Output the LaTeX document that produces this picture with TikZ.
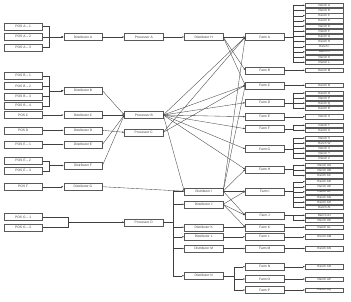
\documentclass[tikz,border=0pt]{standalone}
\usepackage{fontspec}
\setmainfont{Liberation Sans}
\usetikzlibrary{arrows.meta}
\begin{document}
\begin{tikzpicture}[x=1pt,y=-1pt,
 box/.style={draw=black!65, fill=white, line width=0.4pt, minimum width=38.5pt, minimum height=7pt, inner sep=0pt, font=\fontsize{3.3}{3.3}\selectfont, text=black!75},
 rbox/.style={box, minimum width=38pt, minimum height=4.4pt, font=\fontsize{3}{3}\selectfont},
 conn/.style={draw=black!75, line width=0.35pt, -{Latex[length=2pt,width=1.6pt]}}]
\useasboundingbox (0,0) rectangle (351,301);
% column 1: POS
\node[box] (pa1) at (23.2,26.3) {POS A – 1};
\node[box] (pa2) at (23.2,36.8) {POS A – 2};
\node[box] (pa3) at (23.2,47.3) {POS A – 3};
\node[box] (pb1) at (23.2,75.8) {POS B – 1};
\node[box] (pb2) at (23.2,86) {POS B – 2};
\node[box] (pb3) at (23.2,96.2) {POS B – 3};
\node[box] (pb4) at (23.2,105.8) {POS B – 4};
\node[box] (pc) at (23.2,115) {POS C};
\node[box] (pd) at (23.2,130.3) {POS D};
\node[box] (pe1) at (23.2,144.5) {POS E – 1};
\node[box] (pe2) at (23.2,160.7) {POS E – 2};
\node[box] (pe3) at (23.2,170.7) {POS E – 3};
\node[box] (pf) at (23.2,186.7) {POS F};
\node[box] (pg1) at (23.2,217) {POS G – 1};
\node[box] (pg2) at (23.2,227.3) {POS G – 2};
% column 2: distributors
\node[box] (dA) at (83,37) {Distributor A};
\node[box] (dB) at (83,90.7) {Distributor B};
\node[box] (dC) at (83,115) {Distributor C};
\node[box] (dD) at (83,130.3) {Distributor D};
\node[box] (dE) at (83,144.5) {Distributor E};
\node[box] (dF) at (83,165.5) {Distributor F};
\node[box] (dG) at (83,186.7) {Distributor G};
% column 3: processors
\node[box] (prA) at (143.8,37) {Processor A};
\node[box] (prB) at (143.8,115) {Processor B};
\node[box] (prC) at (143.8,132.3) {Processor C};
\node[box] (prD) at (143.8,222.3) {Processor D};
% column 4: distributors
\node[box] (dH) at (203.7,37) {Distributor H};
\node[box] (dI) at (203.7,191.2) {Distributor I};
\node[box] (dJ) at (203.7,204.3) {Distributor J};
\node[box] (dK) at (203.7,227.2) {Distributor K};
\node[box] (dL) at (203.7,236.8) {Distributor L};
\node[box] (dM) at (203.7,248.5) {Distributor M};
\node[box] (dN) at (203.7,275.7) {Distributor N};
% column 5: farms
\foreach \n/\y in {A/37,B/70.3,C/85.3,D/102.7,E/116.7,F/128.7,G/149,H/169.3,I/191.2,J/215.3,K/227.2,L/236.8,M/248.5,N/266.7,O/279,P/290}
  \node[box] (f\n) at (264.7,\y) {Farm \n};
% column 6: ranches
\foreach \n/\y in {A/5.3,B/10.5,C/15.7,D/20.8,E/26,F/31.2,G/36.4,H/41.6,I/46.7,J/51.9,K/57.1,L/62.3,M/70.3,N/85.3,O/93,P/98.1,Q/103.2,R/108.3,S/116.7,T/125.3,U/130.4,V/138,W/143.1,X/148.2,Y/153.3,Z/158.4,AA/165.3,AB/170.4,AC/175.6,AD/181.7,AE/186.8,AF/191.9,AG/197,AH/202.1,AI/207.3,AJ/215.3,AK/220.4,AL/227.2,AM/236.8,AN/248.5,AO/266.7,AP/279,AQ/290}
  \node[rbox] (r\n) at (324.3,\y) {Ranch \n};
% POS -> distributors
\foreach \s in {pa1,pa2,pa3} \draw[conn] (\s.east) -- ++(7,0) |- (dA.west);
\foreach \s in {pb1,pb2,pb3,pb4} \draw[conn] (\s.east) -- ++(7,0) |- (dB.west);
\draw[conn] (pc) -- (dC);
\draw[conn] (pd) -- (dD);
\draw[conn] (pe1) -- (dE);
\foreach \s in {pe2,pe3} \draw[conn] (\s.east) -- ++(7,0) |- (dF.west);
\draw[conn] (pf) -- (dG);
\foreach \s in {pg1,pg2} \draw[conn] (\s.east) -- ++(26,0) |- (prD.west);
% distributors -> processors
\draw[conn] (dA) -- (prA);
\foreach \s in {dB,dC,dE,dF} \draw[conn] (\s.east) -- (prB.west);
\draw[conn] (dD.east) -- (prC.west);
\draw[conn] (dG.east) -- (dI.west);
% processors -> distributors
\draw[conn] (prA) -- (dH);
\draw[conn] (prB.east) -- (dI.west);
\foreach \t in {dI,dJ,dK,dL,dM,dN} \draw[conn] (prD.east) -- ++(10,0) |- (\t.west);
% to farms
\foreach \t in {fA,fB,fC} \draw[conn] (dH.east) -- (\t.west);
\foreach \t in {fA,fC,fD,fE,fF,fG,fH} \draw[conn] (prB.east) -- (\t.west);
\foreach \t in {fA,fC} \draw[conn] (prC.east) -- (\t.west);
\foreach \t in {fA,fC,fH,fI,fJ} \draw[conn] (dI.east) -- (\t.west);
\foreach \t in {fI,fJ,fK} \draw[conn] (dJ.east) -- (\t.west);
\draw[conn] (dK) -- (fK);
\draw[conn] (dL) -- (fL);
\draw[conn] (dM) -- (fM);
\foreach \t in {fN,fO,fP} \draw[conn] (dN.east) -- ++(10.7,0) |- (\t.west);
% farms -> ranches
\foreach \r in {A,B,C,D,E,F,G,H,I,J,K,L} \draw[conn] (fA.east) -- ++(9,0) |- (r\r.west);
\draw[conn] (fB) -- (rM);
\draw[conn] (fC) -- (rN);
\foreach \r in {O,P,Q,R} \draw[conn] (fD.east) -- ++(9,0) |- (r\r.west);
\draw[conn] (fE) -- (rS);
\foreach \r in {T,U} \draw[conn] (fF.east) -- ++(9,0) |- (r\r.west);
\foreach \r in {V,W,X,Y,Z} \draw[conn] (fG.east) -- ++(9,0) |- (r\r.west);
\foreach \r in {AA,AB,AC} \draw[conn] (fH.east) -- ++(9,0) |- (r\r.west);
\foreach \r in {AD,AE,AF,AG,AH,AI} \draw[conn] (fI.east) -- ++(9,0) |- (r\r.west);
\foreach \r in {AJ,AK} \draw[conn] (fJ.east) -- ++(9,0) |- (r\r.west);
\draw[conn] (fK) -- (rAL);
\draw[conn] (fL) -- (rAM);
\draw[conn] (fM) -- (rAN);
\draw[conn] (fN) -- (rAO);
\draw[conn] (fO) -- (rAP);
\draw[conn] (fP) -- (rAQ);
\end{tikzpicture}
\end{document}
